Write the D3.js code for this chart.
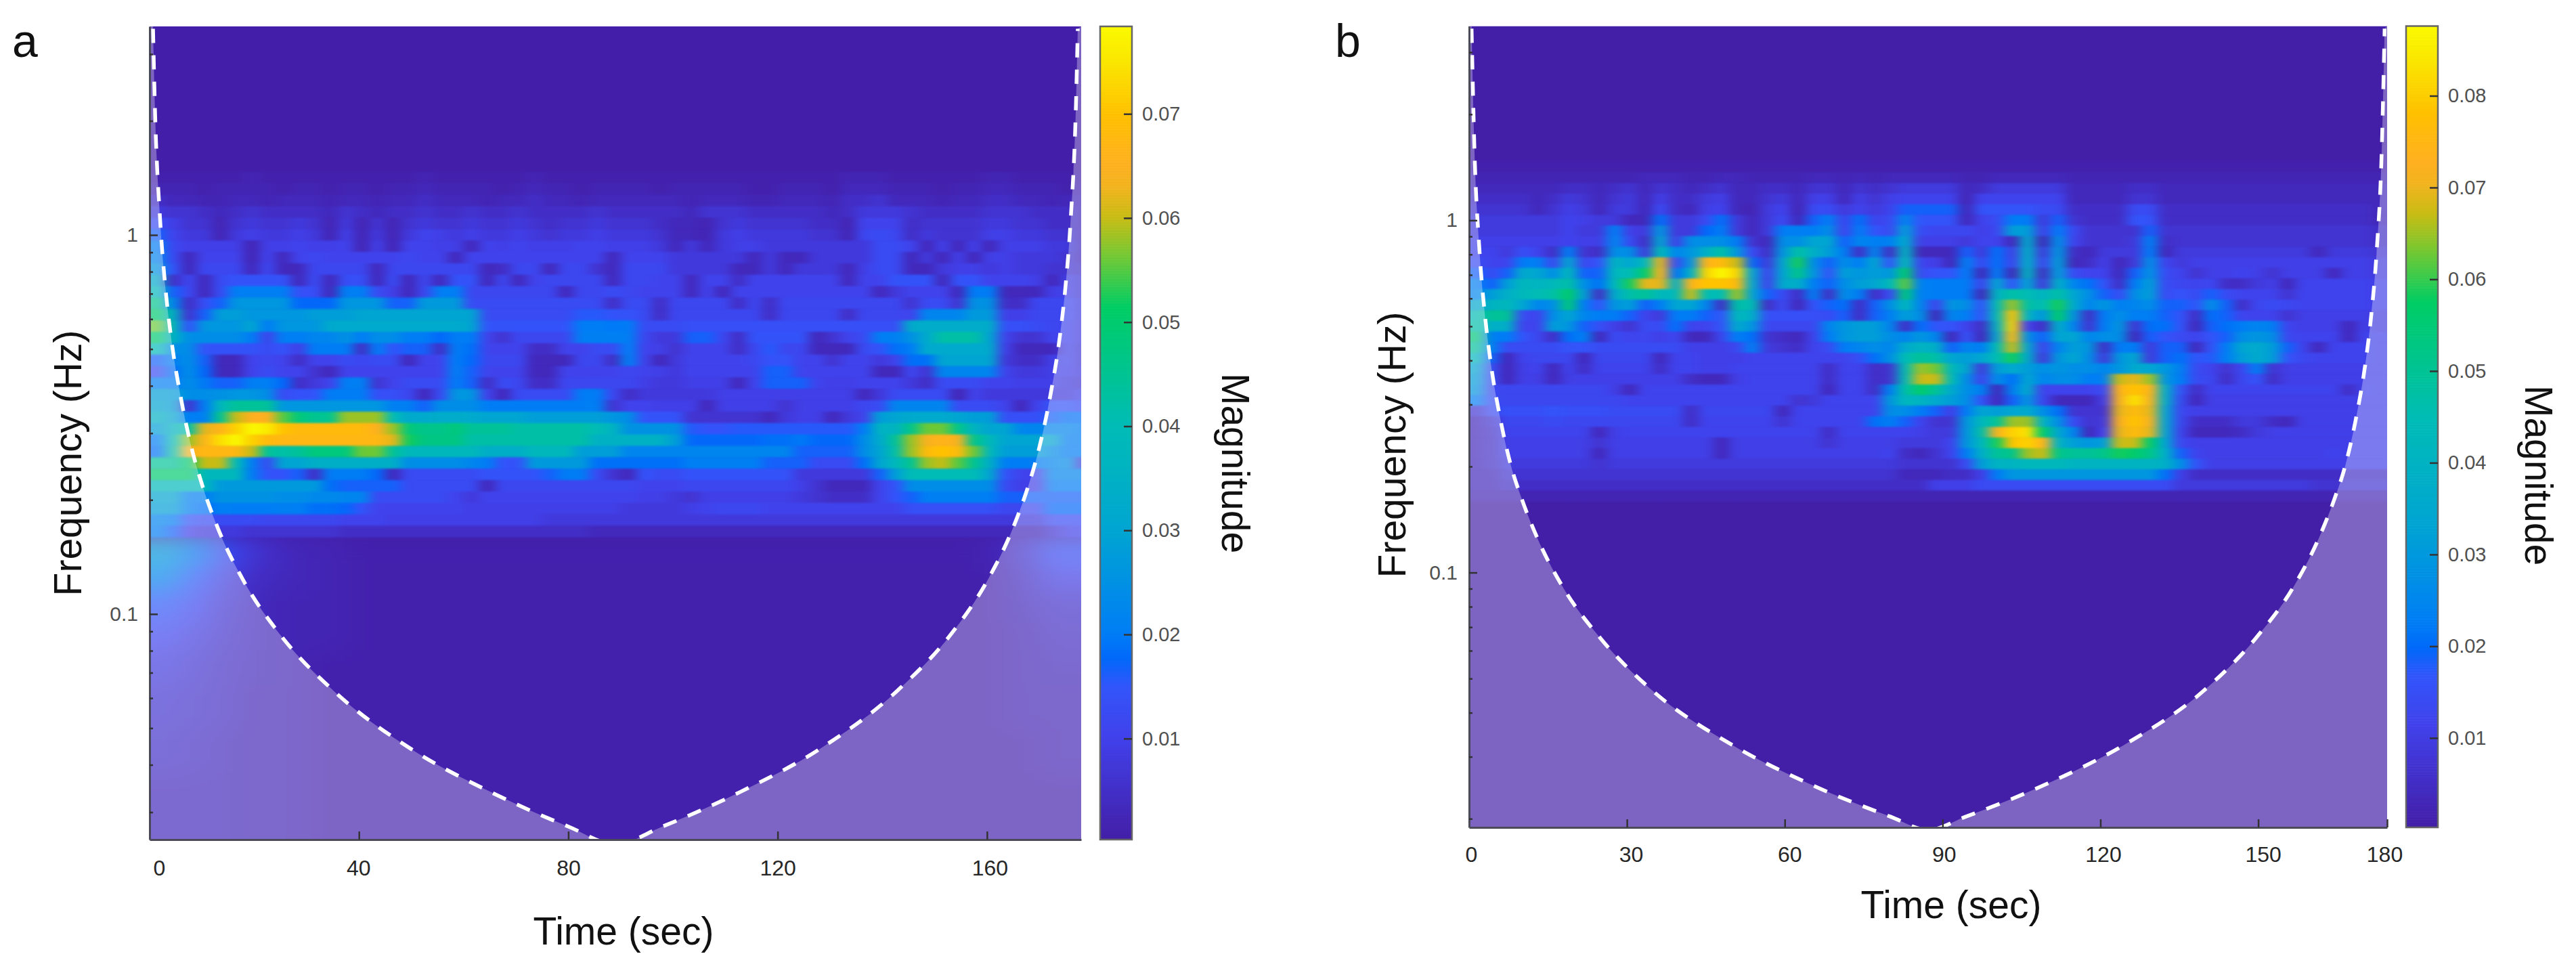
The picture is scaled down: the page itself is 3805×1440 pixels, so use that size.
<!DOCTYPE html>
<html><head><meta charset="utf-8">
<script src="https://cdn.jsdelivr.net/npm/d3@7/dist/d3.min.js"></script>
<style>
html,body{margin:0;padding:0;background:#fff}
svg{display:block}
text{font-family:"Liberation Sans",Arial,sans-serif}
.tick text{fill:#505050}
</style></head><body>
<div id="chart"></div>
<script>
// ---------- Shared values ----------
const colorStops = [0,.004,.128,.19,.225,.255,.38,.51,.655,.72,.765,.8,.83,.89,.955,1];
const colorValues = ["#3e1fa4","#431fa8","#4141eb","#3255fa","#0069fa","#007df5","#00a5d2","#00bcb6","#00cd64","#78c832","#c8bc14","#f0b41e","#ffb020","#ffc000","#fae600","#fafa00"];
const minorTicks = [.02,.03,.04,.05,.06,.07,.08,.09,.2,.3,.4,.5,.6,.7,.8,.9,2,3];
const majorTicks = [.1,1];
const rowBaseFreq = 0.1595;
const voicesPerOctave = 10;

// ---------- Panel a ----------
const xTicksA = [0,40,80,120,160];
const xLabelsA = ["0","40","80","120","160"];
const barTicksA = [.01,.02,.03,.04,.05,.06,.07];
const coiTimeA = [.65,1,2,3,4,6,8,10,13,18,25,35,50,65,80,89,98,113,128,143,153,160,165,168,170,172,174,175,176,177,177.35];
const coiFreqA = [3.5,2.2,1.1,.73,.55,.37,.275,.22,.169,.122,.088,.063,.044,.034,.0275,.0247,.0275,.034,.044,.063,.088,.122,.169,.22,.275,.37,.55,.73,1.1,2.2,3.5];
// magnitude x 0.001; rows run from highest to lowest frequency, columns are 3 s wide
const magA = [
[1,1,1,1,1,1,2,1,1,1,1,1,1,1,1,1,1,2,1,1,1,1,1,1,2,1,1,1,1,1,1,1,1,1,1,1,1,1,1,1,1,1,1,1,2,2,2,1,1,1,1,1,1,2,2,1,1,1,1,1],
[2,2,2,1,2,2,2,2,1,2,2,1,2,2,1,2,2,3,2,2,2,2,1,2,3,2,2,1,2,2,2,2,1,2,2,2,2,2,1,1,2,2,2,1,3,3,3,2,2,2,1,2,2,3,3,2,2,2,1,2],
[4,3,3,2,2,3,3,2,3,3,3,2,3,3,2,3,3,4,3,3,3,2,3,3,4,3,3,2,3,3,3,3,3,3,2,3,3,3,2,2,3,3,3,2,4,4,5,3,3,3,2,3,3,4,4,3,3,2,3,3],
[6,5,5,4,3,4,5,4,4,4,4,3,5,4,3,4,4,5,4,4,5,4,4,5,4,4,4,4,5,4,4,4,4,4,3,5,5,5,4,4,4,4,4,3,4,6,6,6,5,4,4,4,4,5,5,5,4,4,4,3],
[10,7,5,5,2,5,6,5,5,6,5,2,6,2,5,2,5,6,5,5,6,5,5,6,5,4,5,5,6,5,5,5,4,3,3,2,5,6,5,5,5,5,4,4,2,8,8,8,4,5,5,5,5,6,6,5,5,4,4,3],
[14,8,6,6,2,6,7,6,6,7,6,2,7,2,6,2,6,8,7,6,7,6,6,7,6,5,6,6,7,6,6,6,5,3,3,2,6,7,6,6,6,6,5,5,2,9,10,9,4,6,5,5,5,7,7,6,6,5,5,3],
[18,9,7,7,7,7,2,7,7,8,7,7,8,2,7,2,8,8,7,7,3,8,7,8,7,7,7,8,8,7,7,7,6,3,6,3,6,7,7,6,6,6,6,6,6,6,10,10,8,3,7,3,7,3,7,7,7,6,6,3],
[22,10,3,8,8,8,2,8,3,8,9,8,8,8,8,8,9,8,8,3,8,8,8,8,8,8,8,8,8,3,8,8,8,6,6,6,6,6,3,6,3,3,6,6,6,6,10,10,3,6,3,7,3,7,7,6,6,6,5,3],
[26,12,3,9,9,9,3,9,3,3,9,9,9,9,3,9,9,9,9,9,9,3,4,9,9,3,9,9,5,3,9,9,9,6,6,6,6,3,3,6,3,6,6,6,3,7,10,10,3,3,6,7,7,6,7,6,6,5,5,4],
[32,4,9,3,10,12,12,12,12,3,10,3,11,11,3,10,3,9,3,12,12,3,9,3,8,9,9,9,9,3,9,9,8,8,3,8,8,4,8,8,8,8,8,8,3,8,8,12,12,12,3,12,12,8,8,8,7,3,7,5],
[38,14,9,3,10,18,18,18,18,11,11,3,18,18,10,7,3,9,18,18,9,9,9,9,9,9,3,9,9,10,9,8,8,8,3,8,3,8,8,8,8,8,8,8,8,8,3,6,8,8,8,3,20,20,3,3,3,7,7,5],
[46,22,4,11,14,26,26,26,26,15,15,15,26,26,26,14,14,27,27,27,10,10,10,10,10,10,10,10,10,4,10,10,4,9,9,9,9,4,9,4,9,9,9,9,9,9,9,9,5,10,10,5,25,25,4,4,9,9,9,6],
[50,34,5,14,28,28,26,26,26,26,28,28,28,30,30,30,30,30,30,30,30,10,10,10,10,10,10,13,13,12,12,10,4,9,9,9,9,9,9,4,9,9,9,9,4,9,9,9,8,22,22,22,27,27,7,7,9,9,9,6],
[56,38,12,26,26,26,30,20,26,26,26,32,32,32,32,32,32,32,32,32,30,12,12,12,12,12,12,20,20,17,20,10,10,10,11,11,11,11,11,11,11,11,11,11,11,11,11,11,33,33,33,33,33,33,11,11,10,9,8,6],
[50,35,24,24,24,24,20,8,18,20,22,22,25,20,24,24,20,20,15,20,20,8,5,9,9,9,9,18,18,18,18,9,6,6,14,14,9,4,12,12,12,12,3,5,8,10,18,18,25,32,42,42,42,30,8,5,5,8,8,6],
[40,24,24,12,12,12,12,10,12,7,20,20,20,4,20,12,14,14,4,20,16,8,8,8,4,4,8,8,10,10,18,8,7,5,8,8,8,4,9,13,9,9,3,3,3,10,12,16,20,32,32,32,32,32,7,3,3,3,8,5],
[14,18,24,14,3,3,8,9,8,4,8,8,10,9,10,10,3,8,8,20,15,9,9,9,3,3,3,9,9,4,18,8,3,6,8,8,8,8,9,12,12,8,8,5,8,8,6,8,16,16,30,30,30,30,6,4,4,7,8,5],
[10,16,24,15,3,3,8,10,8,8,5,3,8,8,8,8,8,8,8,18,14,8,8,8,3,3,8,8,8,8,9,8,7,6,8,8,8,8,8,14,14,8,8,8,8,8,3,3,9,5,22,22,22,22,8,6,6,7,7,6],
[18,20,24,17,14,14,18,18,15,4,6,8,18,18,5,8,10,10,10,20,14,4,10,9,4,4,9,9,9,9,9,7,6,6,7,7,7,3,8,14,14,14,8,7,7,8,8,8,6,4,10,10,10,8,8,7,7,7,6,5],
[28,28,24,24,25,26,26,24,10,12,12,20,20,20,11,11,9,3,10,26,26,8,3,10,10,10,10,20,20,9,4,6,6,6,6,6,7,7,7,7,7,7,7,7,7,3,6,10,10,10,10,2,8,6,6,6,6,6,6,8],
[30,28,5,20,38,44,44,44,26,26,26,26,26,26,26,18,18,14,24,24,24,20,20,20,20,20,20,20,18,5,8,8,7,7,7,3,7,7,7,7,5,7,7,7,7,9,10,22,22,22,22,10,10,10,8,3,8,12,12,10],
[35,30,20,18,45,60,65,65,55,48,45,45,58,58,58,40,32,32,33,33,32,30,30,30,28,28,28,28,28,26,24,12,12,12,5,5,5,5,5,3,6,7,7,3,6,8,28,30,32,32,32,30,28,28,11,11,11,14,16,16],
[28,36,42,62,66,72,78,76,70,68,68,68,68,68,65,58,48,46,46,48,44,44,44,42,42,42,42,42,40,36,25,25,25,25,13,12,12,13,13,13,13,13,13,13,13,20,36,36,46,56,56,46,36,30,30,22,22,22,22,20],
[20,40,58,66,74,78,72,68,67,67,67,67,67,67,67,62,52,47,47,47,42,42,42,42,42,42,42,42,35,35,35,35,35,28,15,15,15,15,15,16,16,17,15,15,15,24,32,44,58,64,66,64,46,38,30,30,30,30,20,18],
[16,42,64,67,67,67,60,44,42,44,48,48,48,56,56,44,38,38,38,38,38,34,34,34,38,38,38,28,28,28,22,22,22,22,22,22,22,22,22,22,22,14,14,14,14,24,30,42,58,68,70,68,56,38,28,28,28,24,20,20],
[44,44,50,60,60,40,18,10,30,30,34,34,34,34,34,34,24,24,24,24,22,20,12,12,27,27,27,27,16,16,16,16,16,16,18,18,18,18,18,14,14,14,10,10,10,16,30,38,45,58,60,55,45,34,20,20,20,22,24,6],
[50,50,50,38,38,38,20,12,12,14,4,20,20,20,15,3,10,10,10,10,10,12,12,12,12,14,20,20,10,5,3,12,10,10,12,12,12,12,12,12,12,6,6,6,6,6,14,28,40,40,40,40,40,30,12,8,8,22,22,22],
[38,38,38,38,27,27,27,27,27,27,27,16,14,14,14,14,10,10,10,10,10,3,9,9,9,9,9,9,9,9,9,8,8,8,9,9,9,9,9,9,9,7,5,3,3,3,8,12,24,24,24,24,24,24,10,7,7,20,20,20],
[30,30,18,18,25,25,25,25,24,24,23,23,22,22,10,10,10,10,10,8,6,8,8,8,8,8,8,8,8,8,8,7,7,6,5,7,7,7,7,7,7,6,5,4,4,4,8,12,14,18,18,18,18,18,14,14,14,14,14,14],
[28,28,18,16,18,20,20,20,18,18,16,16,15,12,8,8,8,8,8,8,7,7,7,7,7,7,7,7,7,7,6,6,6,6,7,8,9,9,9,8,8,8,8,8,8,8,8,8,11,11,11,11,11,11,9,9,9,15,15,15],
[22,20,12,10,10,10,10,9,9,9,9,9,8,8,8,7,7,7,7,7,7,7,7,7,7,6,6,6,6,6,6,6,6,6,6,6,6,6,6,6,6,6,6,6,6,6,6,6,6,6,6,6,6,6,6,6,6,10,10,10],
[18,14,7,6,6,6,5,5,5,5,5,5,4,4,4,4,4,4,4,4,4,4,4,4,4,4,4,4,3,3,3,3,3,3,3,3,3,3,3,3,3,3,3,3,3,3,3,3,3,3,3,3,3,3,3,3,3,5,7,8]
];
// low-frequency edge glow of panel a (coarse read-off)
const lowFreqA = [.1595,.135,.115,.095,.08,.065,.05,.038,.015];
const lowTimeA = [0,6,12,18,24,30,38,150,158,164,170,180];
const lowMagA = [
[28,20,12,6,3,2,1,1,2,6,14],
[22,15,8,4,3,2,1,1,1,4,9],
[15,11,6,3,2,2,1,1,1,3,5],
[11,8,5,3,2,2,1,1,1,2,4],
[8,6,4,3,2,1,1,1,1,2,3],
[6,5,4,2,2,1,1,1,1,2,2],
[5,4,3,2,2,1,1,1,1,1,2],
[3,3,3,2,2,1,1,1,1,1,1]
];

// ---------- Panel b ----------
const xTicksB = [0,30,60,90,120,150,174.5];
const xLabelsB = ["0","30","60","90","120","150","180"];
const barTicksB = [.01,.02,.03,.04,.05,.06,.07,.08];
const coiTimeB = [.47,1,2,3,4,6,8,10,13,18,25,35,50,65,80,87.25,94.5,109.5,124.5,139.5,149.5,156.5,161.5,164.5,166.5,168.5,170.5,171.5,172.5,173.5,174.03];
const coiFreqB = [3.5,1.62,.81,.54,.405,.27,.2,.162,.125,.09,.065,.046,.0324,.025,.0203,.0186,.0203,.025,.0324,.046,.065,.09,.125,.162,.2,.27,.405,.54,.81,1.62,3.5];
// colour-equivalent magnitude, 1 unit = 0.00112; rows high to low frequency
const magB = [
[1,1,1,1,1,1,1,1,1,1,1,1,1,1,1,1,1,1,1,1,1,1,1,1,1,1,1,1,1,1,1,1,1,1,1,1,1,1,1,1,1,1,1,1,1,1,1,1,1,1,1,1,1,1,1,1,1,1,1,1],
[2,2,2,2,2,2,2,2,2,2,2,3,3,3,2,2,3,3,2,2,2,2,3,3,2,3,2,3,3,3,3,3,2,2,3,3,3,3,3,2,2,2,2,2,2,2,2,2,2,2,2,2,2,2,2,2,2,2,2,2],
[3,3,3,3,3,3,4,4,3,4,5,3,5,4,3,4,5,3,3,4,4,3,5,5,3,5,4,5,6,6,6,6,3,4,6,6,6,6,6,3,3,3,3,4,4,3,3,3,3,3,3,3,3,3,3,3,3,3,3,3],
[4,4,4,4,3,4,6,5,3,5,6,3,7,4,4,6,7,3,3,5,6,3,7,7,3,7,5,7,8,8,8,8,2,8,8,8,8,8,8,3,3,3,3,5,5,3,3,3,3,3,3,3,3,3,3,3,3,3,3,3],
[5,5,5,5,3,5,7,6,3,6,6,3,10,4,3,7,8,3,2,6,8,2,10,10,6,8,6,8,14,14,14,14,3,12,12,12,12,10,10,4,4,4,4,10,10,4,4,4,4,4,4,4,4,4,4,4,4,4,4,3],
[6,6,6,6,6,6,8,7,6,6,3,3,16,6,6,10,16,6,3,6,10,3,14,18,8,16,8,10,22,12,12,12,3,8,10,20,20,6,14,5,4,4,4,12,12,4,4,4,4,4,4,4,4,4,4,4,4,4,4,3],
[6,6,6,6,6,6,8,6,6,18,7,6,26,6,6,15,20,6,3,6,18,18,20,24,8,20,12,10,28,10,9,9,9,7,9,28,28,7,20,9,5,5,5,5,14,5,5,5,5,5,5,5,5,5,5,5,5,5,5,4],
[7,7,7,7,7,7,8,7,7,22,10,4,30,7,24,24,24,20,5,3,24,24,30,30,14,22,18,18,32,7,7,7,6,8,8,3,32,3,24,8,5,5,5,6,18,4,5,5,5,5,5,5,5,5,5,5,5,5,5,4],
[8,8,6,11,8,4,18,5,4,24,24,6,40,22,26,34,42,26,10,4,26,42,34,28,20,4,22,4,36,3,3,3,14,6,16,7,34,6,26,4,3,6,6,6,20,3,6,6,6,6,6,6,6,6,6,3,6,6,6,5],
[10,8,8,20,18,9,30,9,12,36,30,38,62,10,26,66,68,60,15,6,30,52,24,14,24,20,30,12,40,8,7,3,18,9,16,8,34,8,28,3,4,7,3,6,24,8,6,7,7,7,7,7,7,7,7,7,7,7,7,6],
[14,10,14,32,30,24,38,14,14,38,40,50,66,16,34,72,78,72,30,8,30,46,26,12,28,26,28,26,50,10,12,12,20,3,20,3,36,4,28,10,8,8,3,14,25,10,8,5,7,7,8,7,5,7,7,7,3,7,7,6],
[18,14,28,38,36,38,42,24,16,38,52,62,62,34,66,70,70,68,32,8,32,34,18,14,24,28,30,38,55,18,20,20,20,8,30,12,30,6,34,22,16,12,4,20,28,10,9,8,9,4,4,6,7,3,8,8,8,8,8,7],
[22,28,34,38,40,42,50,28,4,32,42,44,38,38,60,40,40,58,30,14,10,4,18,4,24,20,4,10,48,18,20,20,20,3,36,42,40,36,42,30,24,14,10,24,28,10,12,10,14,10,8,8,8,5,8,8,8,8,8,7],
[30,36,38,30,22,24,48,20,12,26,28,14,18,30,30,22,4,42,40,4,10,3,12,14,16,4,14,24,38,22,8,26,24,12,40,58,42,40,52,32,22,26,18,22,24,14,14,12,24,14,4,9,10,9,8,8,8,8,8,7],
[40,44,44,10,8,24,30,22,20,20,14,8,6,20,20,14,12,38,34,11,11,11,11,10,14,4,14,18,28,24,3,22,18,12,40,70,36,26,50,26,4,20,24,20,18,14,12,4,16,14,8,8,8,5,7,7,7,7,7,6],
[42,34,34,8,8,28,26,14,11,7,5,10,10,16,8,8,12,32,26,9,9,9,9,22,26,28,28,22,4,16,12,12,8,4,35,72,8,4,34,22,5,20,26,5,16,16,12,3,14,16,20,22,18,8,7,7,7,3,7,6],
[48,20,20,12,9,4,16,18,3,10,8,9,7,9,3,3,9,18,16,5,4,3,8,20,26,28,28,24,22,26,22,3,12,3,30,68,24,14,30,30,22,24,24,3,14,12,10,8,12,14,24,26,24,9,8,8,8,3,8,7],
[44,18,10,10,10,10,12,12,10,10,10,10,10,10,7,7,7,9,18,6,5,4,8,10,20,22,24,22,32,36,34,14,22,20,40,60,30,8,22,28,26,4,20,20,6,14,14,3,12,20,30,32,28,14,8,3,8,8,8,7],
[38,14,3,8,9,9,9,3,9,9,9,9,3,8,8,7,7,7,8,8,8,8,8,8,8,11,16,24,40,44,42,30,28,30,40,52,32,6,26,30,24,6,26,30,6,14,16,12,13,18,28,32,28,12,9,8,8,8,8,7],
[30,10,3,7,8,3,8,4,8,8,8,8,4,8,8,7,7,8,8,8,8,8,8,4,8,8,4,5,40,58,56,38,30,6,28,32,28,24,26,24,24,22,26,32,30,26,18,10,8,5,9,18,5,7,7,7,7,7,7,7],
[28,10,3,7,7,3,7,7,7,7,7,7,7,7,4,3,3,7,8,8,8,8,8,4,8,8,4,5,40,60,60,40,24,8,24,16,30,22,24,24,20,18,60,62,58,26,20,10,9,4,9,12,4,7,7,7,7,7,7,7],
[26,9,9,9,9,9,9,9,9,7,3,8,8,8,8,8,8,8,8,8,8,8,8,3,8,8,4,18,42,50,44,32,24,18,3,18,32,8,8,8,8,10,66,70,66,34,12,4,8,8,8,8,8,8,8,8,8,4,8,7],
[18,10,9,9,9,9,9,9,9,9,8,8,8,8,8,8,8,8,8,8,8,5,6,8,8,8,8,26,38,36,32,28,24,12,3,14,26,9,3,3,3,7,64,74,64,34,10,3,7,7,7,7,7,7,7,7,7,7,7,7],
[5,10,11,11,11,12,11,11,11,10,10,10,10,10,4,9,9,9,9,9,3,8,8,8,8,8,8,24,24,20,14,7,20,30,28,30,32,24,16,5,5,5,62,68,62,30,9,7,7,7,7,7,7,7,7,7,7,7,7,7],
[3,5,9,9,9,10,9,9,9,9,9,9,9,9,4,8,8,8,8,8,5,8,8,8,8,8,16,18,14,8,5,5,26,38,44,58,58,36,24,10,5,6,64,70,64,30,9,4,4,4,6,6,4,3,7,7,7,7,7,7],
[3,4,8,8,8,8,8,8,3,7,8,8,8,8,8,8,8,8,8,8,8,8,8,4,8,8,8,8,8,7,6,6,26,42,64,72,74,50,30,22,3,8,62,68,62,30,8,3,3,3,4,6,7,7,7,7,7,7,7,7],
[3,4,7,7,7,7,7,7,5,7,7,7,7,7,7,7,3,7,7,7,7,7,7,5,7,7,7,7,6,6,6,8,26,38,52,70,72,66,36,28,26,28,60,60,50,30,9,7,7,7,7,7,7,7,7,7,7,7,7,7],
[3,4,7,7,7,7,7,7,3,7,7,7,7,7,7,7,3,7,7,7,7,7,7,7,7,7,7,8,4,3,5,8,20,34,44,46,58,60,46,44,44,46,52,50,46,34,14,8,7,7,7,7,7,7,7,7,8,7,7,7],
[3,4,6,6,6,6,6,6,5,6,6,6,6,6,6,6,6,6,6,6,6,6,6,6,6,6,6,6,5,5,5,5,10,28,36,36,38,38,38,36,36,36,36,36,36,34,24,12,7,7,7,7,7,7,7,7,7,7,7,7],
[3,3,5,5,5,5,5,5,5,5,5,5,5,5,5,5,5,5,5,5,5,5,5,5,5,5,5,5,3,3,3,4,4,7,20,26,26,26,26,26,26,26,26,26,26,16,7,4,4,4,4,4,4,4,4,4,4,4,4,4],
[3,3,4,4,4,4,4,4,4,4,4,4,4,4,4,4,4,4,4,4,4,4,4,4,4,4,4,4,4,4,7,7,7,10,10,10,10,10,10,10,10,10,10,10,10,10,6,6,6,6,6,6,6,6,6,5,5,5,5,5],
[2,2,2,2,2,2,2,2,2,2,2,2,2,2,2,2,2,2,2,2,2,2,2,2,2,2,2,2,2,2,2,2,2,2,2,2,2,2,2,2,2,2,2,2,2,2,2,2,2,2,2,2,2,2,2,2,2,2,2,2]
];

// ---------- Drawing ----------
const panels = [
 {id:"a",letter:"a",letterX:18,letterY:84,
  left:221,right:1597,top:39,bottom:1240,timeMax:178,colStep:3,
  freqMin:.0254,freqMax:3.55,vMin:.0003,vMax:.0784,unit:.001,
  mag:magA,low:lowMagA,lowF:lowFreqA,lowT:lowTimeA,
  coiT:coiTimeA,coiF:coiFreqA,xTicks:xTicksA,xLabels:xLabelsA,barTicks:barTicksA,
  barL:1625,barR:1672,xPad:30,yPad:17,xDx:[14,-1,0,0,4],
  xTitleX:921,xTitleY:1395,yTitleX:120,yTitleY:684,magX:1805,magY:684},
 {id:"b",letter:"b",letterX:1972,letterY:84,
  left:2170,right:3526,top:38.5,bottom:1222,timeMax:174.5,colStep:174.5/60,
  freqMin:.0189,freqMax:3.56,vMin:.00025,vMax:.0876,unit:.00112,
  mag:magB,low:null,
  coiT:coiTimeB,coiF:coiFreqB,xTicks:xTicksB,xLabels:xLabelsB,barTicks:barTicksB,
  barL:3554,barR:3601,xPad:28,yPad:17,xDx:[3,6,7,2,4,7,-4],
  xTitleX:2882,xTitleY:1356,yTitleX:2076,yTitleY:657,magX:3730,magY:702}
];

// colour calibration of the faint readings: notches stay dark, the mid background lifts smoothly
const lift=v=>v<=3?v:v<=7?v+(v-3)*.625:v<=18?v+2.5:v;

const W=3805,H=1440;
const svg=d3.select("#chart").append("svg").attr("width",W).attr("height",H).attr("viewBox",[0,0,W,H]);
svg.append("rect").attr("width",W).attr("height",H).attr("fill","#fff");
const defs=svg.append("defs");

const blur=(id,sx,sy)=>defs.append("filter").attr("id",id)
  .attr("filterUnits","userSpaceOnUse").attr("x",0).attr("y",0).attr("width",W).attr("height",H)
  .attr("color-interpolation-filters","sRGB")
  .append("feGaussianBlur").attr("stdDeviation",sx+" "+sy);
blur("cellBlur",8.5,1.5);
blur("lowBlur",22,16);

panels.forEach(p=>{
  const x=d3.scaleLinear().domain([0,p.timeMax]).range([p.left,p.right]);
  const y=d3.scaleLog().domain([p.freqMin,p.freqMax]).range([p.bottom,p.top]);
  const bar=d3.scaleLinear().domain([p.vMin,p.vMax]).range([p.bottom,p.top]);
  const cmap=d3.scaleLinear().domain(colorStops).range(colorValues).clamp(true).interpolate(d3.interpolateRgb);
  const color=v=>cmap(v/p.vMax);
  const g=svg.append("g");

  defs.append("clipPath").attr("id","clip-"+p.id).append("rect")
    .attr("x",p.left).attr("y",p.top).attr("width",p.right-p.left).attr("height",p.bottom-p.top);
  const plot=g.append("g").attr("clip-path","url(#clip-"+p.id+")");
  plot.append("rect").attr("x",p.left).attr("y",p.top).attr("width",p.right-p.left).attr("height",p.bottom-p.top)
    .attr("fill",color(.0004));

  // low-frequency glow
  if(p.low){
    const lg=plot.append("g").attr("filter","url(#lowBlur)");
    p.low.forEach((row,r)=>row.forEach((v,c)=>{
      const t0=p.lowT[c],t1=p.lowT[c+1];
      lg.append("rect").attr("x",x(t0)-(c==0?60:0)).attr("width",x(t1)-x(t0)+(c==0?60:0)+(c==row.length-1?60:0)+1)
        .attr("y",y(p.lowF[r])).attr("height",y(p.lowF[r+1])-y(p.lowF[r])+1)
        .attr("fill",color(v*p.unit));
    }));
  }

  // wavelet magnitude cells
  const nRows=p.mag.length;
  const rowFreq=k=>rowBaseFreq*Math.pow(2,k/voicesPerOctave);
  const cells=plot.append("g").attr("filter","url(#cellBlur)");
  const flat=[];
  p.mag.forEach((row,r)=>row.forEach((v,c)=>flat.push({r,c,v:lift(v),k:nRows-1-r,n:row.length})));
  cells.selectAll("rect").data(flat).join("rect")
    .attr("x",d=>x(d.c*p.colStep)-(d.c==0?40:0))
    .attr("width",d=>x(p.colStep)-x(0)+(d.c==0?40:0)+(d.c==d.n-1?40:0)+.6)
    .attr("y",d=>y(rowFreq(d.k+1)))
    .attr("height",d=>y(rowFreq(d.k))-y(rowFreq(d.k+1))+.4)
    .attr("fill",d=>color(d.v*p.unit));

  // cone of influence
  const pts=p.coiT.map((t,i)=>[t,p.coiF[i]]);
  const line=d3.line().x(d=>x(d[0])).y(d=>y(d[1])).curve(d3.curveMonotoneX);
  const curveD=line(pts);
  const shade=curveD+"L"+x(p.timeMax)+","+y(p.freqMax)+"L"+(p.right+5)+","+(p.top-5)+"L"+(p.right+5)+","+(p.bottom+60)+"L"+(p.left-5)+","+(p.bottom+60)+"L"+(p.left-5)+","+(p.top-5)+"L"+x(pts[0][0])+","+(p.top-5)+"Z";
  plot.append("path").attr("d",shade).attr("fill","#fff").attr("fill-opacity",.31);
  plot.append("path").attr("d",curveD).attr("fill","none").attr("stroke","#fff").attr("stroke-width",5.5).attr("stroke-dasharray","21 18");

  // axes
  const xAxis=d3.axisBottom(x).tickValues(p.xTicks).tickSizeInner(-12).tickSizeOuter(0).tickPadding(p.xPad)
    .tickFormat((d,i)=>p.xLabels[i]);
  const xg=g.append("g").attr("transform","translate(0,"+p.bottom+")").call(xAxis);
  xg.selectAll("text").attr("font-size",32).attr("dx",(d,i)=>p.xDx[i]).style("fill","#262626");
  const yTicks=majorTicks.concat(minorTicks).filter(v=>v>p.freqMin);
  const yAxis=d3.axisLeft(y).tickValues(yTicks).tickSizeInner(-5).tickSizeOuter(0).tickPadding(p.yPad)
    .tickFormat(d=>majorTicks.includes(d)?String(d):"");
  const yg=g.append("g").attr("transform","translate("+p.left+",0)").call(yAxis);
  yg.selectAll("text").attr("font-size",30);
  yg.selectAll(".tick line").attr("x2",d=>majorTicks.includes(d)?12:5);
  [xg,yg].forEach(a=>{
    a.select(".domain").attr("stroke","#4a4a58").attr("stroke-width",3);
    a.selectAll(".tick line").attr("stroke","#333").attr("stroke-width",2.5);
  });

  // colour bar
  const barG=g.append("g");
  const steps=d3.range(0,300).map(i=>p.vMin+(p.vMax-p.vMin)*i/300);
  barG.selectAll("rect").data(steps).join("rect")
    .attr("x",p.barL).attr("width",p.barR-p.barL)
    .attr("y",d=>bar(d+(p.vMax-p.vMin)/300)).attr("height",(p.bottom-p.top)/300+.6)
    .attr("fill",d=>color(d));
  barG.append("rect").attr("x",p.barL).attr("y",p.top).attr("width",p.barR-p.barL).attr("height",p.bottom-p.top)
    .attr("fill","none").attr("stroke","#666").attr("stroke-width",2.5);
  const bAxis=d3.axisRight(bar).tickValues(p.barTicks).tickSizeInner(-12).tickSizeOuter(0).tickPadding(15).tickFormat(d3.format(".2f"));
  const bg=barG.append("g").attr("transform","translate("+p.barR+",0)").call(bAxis);
  bg.select(".domain").remove();
  bg.selectAll("text").attr("font-size",29);
  bg.selectAll(".tick line").attr("stroke","#333").attr("stroke-width",2.5);

  // titles
  const label=(txt,tx,ty,rot,fs)=>g.append("text").attr("transform","translate("+tx+","+ty+") rotate("+rot+")")
    .attr("text-anchor","middle").attr("font-size",fs).attr("fill","#111").text(txt);
  label("Time (sec)",p.xTitleX,p.xTitleY,0,57);
  label("Frequency (Hz)",p.yTitleX,p.yTitleY,-90,57);
  label("Magnitude",p.magX,p.magY,90,57);
  g.append("text").attr("x",p.letterX).attr("y",p.letterY).attr("font-size",68).attr("fill","#111").text(p.letter);
});
</script>
</body></html>
